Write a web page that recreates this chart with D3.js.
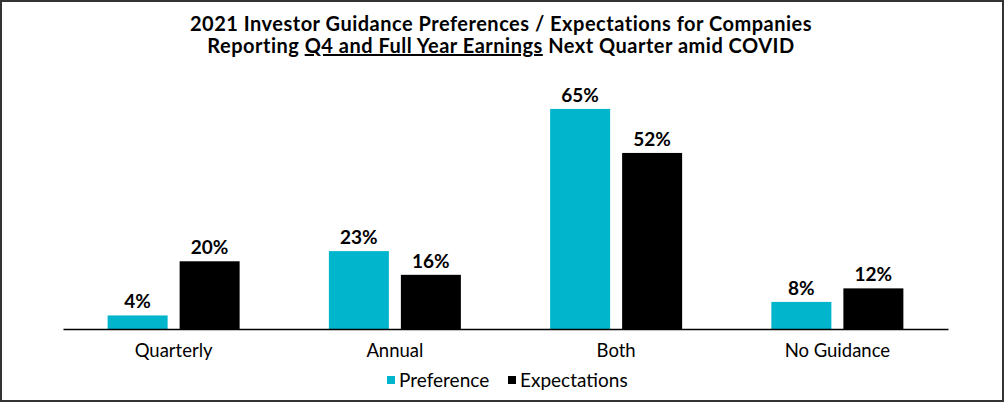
<!DOCTYPE html>
<html>
<head>
<meta charset="utf-8">
<script src="https://cdn.jsdelivr.net/npm/d3@7"></script>
<style>
  body { margin: 0; background: #fff; }
  svg { display: block; font-family: Lato, "Open Sans", sans-serif; }
</style>
</head>
<body>
<div id="chart"></div>
<script>
// Chart data
const categories = ["Quarterly", "Annual", "Both", "No Guidance"];
const preference = [4, 23, 65, 8];
const expectations = [20, 16, 52, 12];
const seriesNames = ["Preference", "Expectations"];
const seriesColors = ["#00B5CC", "#000000"];

const width = 1004, height = 402;
const baseline = 329;

const svg = d3.select('#chart')
    .append('svg')
    .attr('width', width)
    .attr('height', height);

// outer frame
svg.append('rect')
    .attr('x', 1).attr('y', 1)
    .attr('width', width - 2).attr('height', height - 2)
    .attr('fill', 'none')
    .attr('stroke', '#333')
    .attr('stroke-width', 2);

// title, two lines
svg.append('text')
    .attr('x', 501).attr('y', 31)
    .attr('text-anchor', 'middle')
    .attr('font-weight', 'bold')
    .attr('font-size', 20)
    .attr('letter-spacing', 0.5)
    .text('2021 Investor Guidance Preferences / Expectations for Companies');
const line2 = svg.append('text')
    .attr('x', 501).attr('y', 53)
    .attr('text-anchor', 'middle')
    .attr('font-weight', 'bold')
    .attr('font-size', 20)
    .attr('letter-spacing', 0.5);
line2.append('tspan').text('Reporting ');
line2.append('tspan').attr('text-decoration', 'underline').text('Q4 and Full Year Earnings');
line2.append('tspan').text(' Next Quarter amid COVID');

// scales
const x0 = d3.scaleBand()
    .domain(categories)
    .range([63, 948]);

const x1 = d3.scaleBand()
    .domain(seriesNames)
    .range([0, 132])
    .paddingInner(1 / 6);

const y = d3.scaleLinear()
    .domain([0, 70])
    .range([baseline, baseline - 237]);

const rows = categories.map((c, i) => ({
    cat: c,
    vals: [preference[i], expectations[i]]
}));

const groups = svg.append('g')
    .selectAll('g')
    .data(rows)
    .enter().append('g')
    .attr('transform', d => `translate(${x0(d.cat) + (x0.bandwidth() - 132) / 2},0)`);

groups.selectAll('rect')
    .data(d => d.vals.map((v, j) => ({ name: seriesNames[j], v, j })))
    .enter().append('rect')
    .attr('x', d => x1(d.name))
    .attr('width', x1.bandwidth())
    .attr('y', d => y(d.v))
    .attr('height', d => baseline - y(d.v))
    .attr('fill', d => seriesColors[d.j]);

groups.selectAll('text')
    .data(d => d.vals.map((v, j) => ({ name: seriesNames[j], v, j })))
    .enter().append('text')
    .attr('x', d => x1(d.name) + x1.bandwidth() / 2)
    .attr('y', d => y(d.v) - 7)
    .attr('text-anchor', 'middle')
    .attr('font-weight', 'bold')
    .attr('font-size', 19)
    .text(d => d.v + '%');

// axis
const xAxis = svg.append('g')
    .attr('transform', `translate(0,${baseline})`)
    .call(d3.axisBottom(x0).tickSize(0).tickPadding(15));
xAxis.select('.domain').attr('stroke', '#000').attr('stroke-width', 1.5);
xAxis.selectAll('text')
    .attr('font-size', 18.5)
    .attr('font-family', 'Lato, sans-serif')
    .attr('fill', '#000');

// legend
const legendItems = [
    { name: seriesNames[0], color: seriesColors[0], x: 387 },
    { name: seriesNames[1], color: seriesColors[1], x: 508 }
];
const legend = svg.append('g')
    .selectAll('g')
    .data(legendItems)
    .enter().append('g')
    .attr('transform', d => `translate(${d.x},380)`);
legend.append('rect')
    .attr('x', 0).attr('y', -4)
    .attr('width', 8).attr('height', 8)
    .attr('fill', d => d.color);
legend.append('text')
    .attr('x', 12).attr('y', 7)
    .attr('font-size', 19)
    .text(d => d.name);
</script>
</body>
</html>
